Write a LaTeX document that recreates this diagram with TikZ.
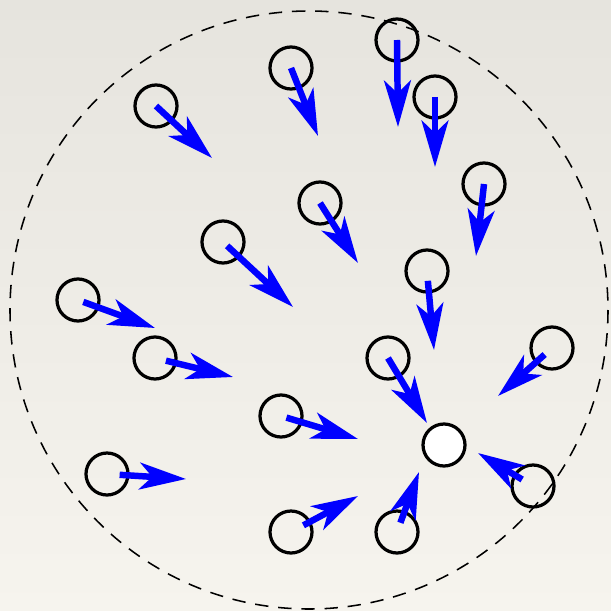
\documentclass[tikz,border=0pt]{standalone}
\usepackage{tikz}
\usetikzlibrary{arrows.meta}
\definecolor{paperTop}{RGB}{230,228,222}
\definecolor{paperBot}{RGB}{246,244,238}
\begin{document}
\begin{tikzpicture}[x=0.025cm,y=-0.025cm]

\tikzset{particle/.style = {shape=circle,draw,line width=2.3pt,minimum size=1.05cm,inner sep=0pt}}
\tikzset{force/.style = {-{Stealth[length=33pt,width=19pt,inset=9pt]},line width=4.6pt,blue}}

% paper
\shade[top color=paperTop,bottom color=paperBot] (0,0) rectangle (611,611);
\useasboundingbox (0,0) rectangle (611,611);

% boundary
\draw[line width=1.1pt,dash pattern=on 9.5pt off 7pt] (309,310) circle (299);

% particles
\node[particle] (p1) at (156,106) {};
\node[particle] (p2) at (291,68) {};
\node[particle] (p3) at (397,40) {};
\node[particle] (p4) at (435,97) {};
\node[particle] (p5) at (484,184) {};
\node[particle] (p6) at (320,203) {};
\node[particle] (p7) at (223,242) {};
\node[particle] (p8) at (427,271) {};
\node[particle] (p9) at (78,300) {};
\node[particle] (p10) at (155,358) {};
\node[particle] (p11) at (552,348) {};
\node[particle] (p12) at (388,358) {};
\node[particle] (p13) at (281,416) {};
\node[particle] (p14) at (107,474) {};
\node[particle] (p15) at (291,532) {};
\node[particle] (p16) at (397,532) {};
\node[particle] (p17) at (533,486) {};
\node[particle,fill=white] (q) at (444,445) {};

% tips
\coordinate (t1) at (212,158);
\coordinate (t2) at (318,136);
\coordinate (t3) at (398,127);
\coordinate (t4) at (435,167);
\coordinate (t5) at (476,256);
\coordinate (t6) at (358,263);
\coordinate (t7) at (293,307);
\coordinate (t8) at (434,350);
\coordinate (t9) at (155,328);
\coordinate (t10) at (233,377);
\coordinate (t11) at (498,396);
\coordinate (t12) at (427,423);
\coordinate (t13) at (358,439);
\coordinate (t14) at (186,479);
\coordinate (t15) at (358,496);
\coordinate (t16) at (419,472);
\coordinate (t17) at (478,453);

%edges
\draw[force] (p1.center) -- (t1);
\draw[force] (p2.center) -- (t2);
\draw[force] (p3.center) -- (t3);
\draw[force] (p4.center) -- (t4);
\draw[force] (p5.center) -- (t5);
\draw[force] (p6.center) -- (t6);
\draw[force,shorten <=4pt] (p7.center) -- (t7);
\draw[force,shorten <=7pt] (p8.center) -- (t8);
\draw[force,shorten <=4pt] (p9.center) -- (t9);
\draw[force,shorten <=8pt] (p10.center) -- (t10);
\draw[force,shorten <=7pt] (p11.center) -- (t11);
\draw[force] (p12.center) -- (t12);
\draw[force,shorten <=4pt] (p13.center) -- (t13);
\draw[force,shorten <=9pt] (p14.center) -- (t14);
\draw[force,shorten <=10pt] (p15.center) -- (t15);
\draw[force,shorten <=7pt] (p16.center) -- (t16);
\draw[force,shorten <=9pt] (p17.center) -- (t17);

\end{tikzpicture}
\end{document}
